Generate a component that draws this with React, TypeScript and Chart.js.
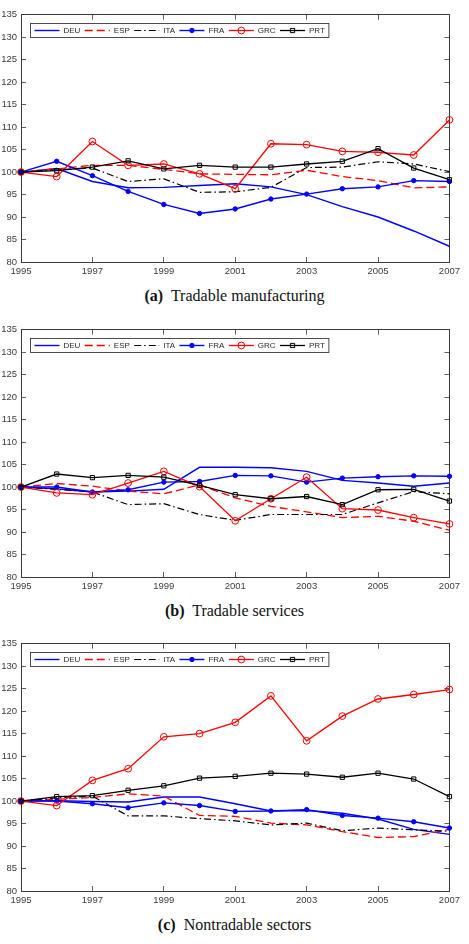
import React, { useEffect, useRef } from "react";
import { Chart, registerables } from "chart.js";
Chart.register(...registerables);

// ---------- data ----------
const years = [1995, 1996, 1997, 1998, 1999, 2000, 2001, 2002, 2003, 2004, 2005, 2006, 2007];
const countries = ["DEU", "ESP", "ITA", "FRA", "GRC", "PRT"];
const yMin = 80;
const yMax = 135;
const yStep = 5;
const xStep = 2;

// (a) Tradable manufacturing
const manufDEU = [100, 100.8, 97.9, 96.5, 96.6, 97.0, 97.4, 96.7, 95.0, 92.3, 90.0, 86.9, 83.5];
const manufESP = [100, 100.7, 101.5, 101.5, 100.6, 99.6, 99.5, 99.4, 100.4, 99.0, 98.1, 96.5, 96.7];
const manufITA = [100, 100.5, 100.9, 97.9, 98.5, 95.5, 95.6, 96.6, 101.0, 101.1, 102.3, 101.8, 100.1];
const manufFRA = [100, 102.4, 99.2, 95.7, 92.8, 90.8, 91.8, 94.0, 95.1, 96.3, 96.7, 98.1, 97.9];
const manufGRC = [100, 99.0, 106.8, 101.5, 101.8, 99.6, 96.3, 106.3, 106.1, 104.6, 104.4, 103.8, 111.6];
const manufPRT = [100, 100.3, 101.1, 102.5, 100.7, 101.5, 101.1, 101.1, 101.8, 102.4, 105.2, 100.9, 98.3];

// (b) Tradable services
const servDEU = [100, 99.6, 98.9, 99.1, 99.5, 104.4, 104.4, 104.3, 103.5, 101.5, 100.9, 100.2, 100.9];
const servESP = [100, 100.8, 100.2, 99.1, 98.5, 100.5, 97.6, 95.7, 94.5, 93.2, 93.5, 92.4, 90.4];
const servITA = [100, 99.5, 98.9, 96.1, 96.3, 93.9, 92.6, 93.9, 93.9, 93.9, 96.5, 99.0, 98.5];
const servFRA = [100, 100.0, 98.9, 99.4, 101.1, 101.25, 102.6, 102.5, 101.1, 102.0, 102.3, 102.5, 102.4];
const servGRC = [100, 98.7, 98.3, 100.9, 103.5, 100.1, 92.5, 97.4, 102.2, 95.2, 94.9, 93.2, 91.8];
const servPRT = [100, 102.9, 102.1, 102.6, 102.2, 100.4, 98.3, 97.4, 97.9, 96.1, 99.4, 99.5, 96.9];

// (c) Nontradable sectors
const nontDEU = [100, 100.1, 99.9, 99.8, 100.9, 100.9, 99.4, 97.8, 97.9, 97.3, 96.0, 93.7, 92.6];
const nontESP = [100, 100.4, 100.8, 101.6, 101.1, 96.8, 96.6, 95.1, 94.7, 93.2, 91.9, 92.1, 93.7];
const nontITA = [100, 100.7, 101.1, 96.7, 96.7, 96.1, 95.6, 94.7, 95.1, 93.4, 94.0, 93.6, 93.3];
const nontFRA = [100, 100.0, 99.4, 98.5, 99.6, 99.0, 97.7, 97.8, 98.1, 96.8, 96.2, 95.4, 94.0];
const nontGRC = [100, 99.0, 104.6, 107.2, 114.3, 115.0, 117.5, 123.4, 113.4, 118.9, 122.7, 123.7, 124.8];
const nontPRT = [100, 101.0, 101.2, 102.4, 103.4, 105.1, 105.5, 106.2, 106.0, 105.3, 106.2, 104.9, 101.0];

// ---------- styles ----------
const BLUE = "#0000ff";
const RED = "#ff0000";
const BLACK = "#000000";
const AXIS = "#3a3a3a";
const TEXT = "#2a2a2a";
const TICKTEXT = "#3c3c3c";
const SANS = "'Liberation Sans', Arial, Helvetica, sans-serif";

const seriesStyle: Record<string, any> = {
  DEU: { color: BLUE, dash: [], width: 1.4, pointStyle: "circle", radius: 0, fill: BLUE },
  ESP: { color: RED, dash: [8, 4], width: 1.3, pointStyle: "circle", radius: 0, fill: RED },
  ITA: { color: BLACK, dash: [7, 3, 1.5, 3], width: 1.2, pointStyle: "circle", radius: 0, fill: BLACK },
  FRA: { color: BLUE, dash: [], width: 1.4, pointStyle: "circle", radius: 2.2, fill: BLUE },
  GRC: { color: RED, dash: [], width: 1.3, pointStyle: "circle", radius: 3.4, fill: "rgba(0,0,0,0)" },
  PRT: { color: BLACK, dash: [], width: 1.3, pointStyle: "rect", radius: 3, fill: "rgba(0,0,0,0)" },
};

function buildDatasets(series: number[][]) {
  return series.map((vals, i) => {
    const name = countries[i];
    const s = seriesStyle[name];
    return {
      label: name,
      data: years.map((yr, k) => ({ x: yr, y: vals[k] })),
      borderColor: s.color,
      borderWidth: s.width,
      borderDash: s.dash,
      pointStyle: s.pointStyle,
      pointRadius: s.radius,
      pointBorderColor: s.color,
      pointBackgroundColor: s.fill,
      pointBorderWidth: 1,
      pointHoverRadius: s.radius,
      tension: 0,
      fill: false,
      clip: false,
      order: countries.length - i,
    };
  });
}

const insideLegend = {
  id: "insideLegend",
  afterDatasetsDraw(chart: any) {
    const { ctx, chartArea } = chart;
    const dsList = chart.data.datasets;
    ctx.save();
    ctx.font = `8px ${SANS}`;
    const lineLen = 25;
    const gap = 4;
    const itemGap = 4.4;
    const pad = 4;
    const h = 14;
    const widths = dsList.map((d: any) => ctx.measureText(d.label).width);
    let total = pad * 2 + itemGap * (dsList.length - 1);
    widths.forEach((w: number) => (total += lineLen + gap + w));
    const x0 = Math.round(chartArea.left + 9) + 0.5;
    const y0 = Math.round(chartArea.top + 8.5) + 0.5;
    ctx.fillStyle = "#ffffff";
    ctx.fillRect(x0, y0, total, h);
    ctx.strokeStyle = AXIS;
    ctx.lineWidth = 0.9;
    ctx.strokeRect(x0, y0, total, h);
    const cy = y0 + h / 2;
    let x = x0 + pad;
    dsList.forEach((d: any, i: number) => {
      ctx.save();
      ctx.strokeStyle = d.borderColor;
      ctx.lineWidth = d.borderWidth;
      ctx.setLineDash(d.borderDash || []);
      ctx.beginPath();
      ctx.moveTo(x, cy);
      ctx.lineTo(x + lineLen, cy);
      ctx.stroke();
      ctx.restore();
      if (d.pointRadius > 0) {
        const mx = x + lineLen / 2;
        const r = d.pointRadius;
        ctx.save();
        ctx.strokeStyle = d.pointBorderColor;
        ctx.fillStyle = d.pointBackgroundColor;
        ctx.lineWidth = d.pointBorderWidth;
        ctx.beginPath();
        if (d.pointStyle === "rect") {
          const s = Math.SQRT1_2 * r;
          ctx.rect(mx - s, cy - s, 2 * s, 2 * s);
        } else {
          ctx.arc(mx, cy, r, 0, Math.PI * 2);
        }
        ctx.fill();
        ctx.stroke();
        ctx.restore();
      }
      ctx.fillStyle = TEXT;
      ctx.textBaseline = "middle";
      ctx.textAlign = "left";
      ctx.fillText(d.label, x + lineLen + gap, cy + 0.5);
      x += lineLen + gap + widths[i] + itemGap;
    });
    ctx.restore();
  },
};

function axisCommon() {
  return {
    grid: { drawOnChartArea: false, drawTicks: true, tickLength: -5, color: AXIS, lineWidth: 0.8 },
    border: { display: true, color: AXIS, width: 1 },
  };
}

function Panel({ top, series, letter, caption }: { top: number; series: number[][]; letter: string; caption: string }) {
  const ref = useRef<HTMLCanvasElement | null>(null);
  useEffect(() => {
    if (!ref.current) return;
    const tickFont = { family: SANS, size: 9.5 };
    const chart = new Chart(ref.current, {
      type: "line",
      data: { datasets: buildDatasets(series) as any },
      options: {
        responsive: false,
        animation: false,
        devicePixelRatio: 1,
        layout: { padding: { left: 0, right: 14, top: 14, bottom: 0 } },
        plugins: { legend: { display: false }, tooltip: { enabled: false } },
        events: [],
        scales: {
          x: {
            type: "linear",
            position: "bottom",
            min: years[0],
            max: years[years.length - 1],
            ticks: { stepSize: xStep, callback: (v: any) => String(v), font: tickFont, color: TICKTEXT, padding: 9, maxRotation: 0, autoSkip: false },
            ...axisCommon(),
            afterFit: (s: any) => { s.height = 23; },
          },
          x2: {
            type: "linear",
            position: "top",
            min: years[0],
            max: years[years.length - 1],
            ticks: { stepSize: xStep, display: false },
            ...axisCommon(),
            afterFit: (s: any) => { s.height = 0; },
          },
          y: {
            type: "linear",
            position: "left",
            min: yMin,
            max: yMax,
            ticks: { stepSize: yStep, font: tickFont, color: TICKTEXT, padding: 9, autoSkip: false },
            ...axisCommon(),
            afterFit: (s: any) => { s.width = 21; },
          },
          y2: {
            type: "linear",
            position: "right",
            min: yMin,
            max: yMax,
            ticks: { stepSize: yStep, display: false },
            ...axisCommon(),
            afterFit: (s: any) => { s.width = 0; },
          },
        } as any,
      },
      plugins: [insideLegend],
    });
    return () => chart.destroy();
  }, [series]);

  return (
    <div style={{ position: "absolute", left: 0, top, width: 469, height: 314 }}>
      <canvas ref={ref} width={469} height={285} style={{ position: "absolute", left: 0, top: 0, width: 469, height: 285 }} />
      <div
        style={{
          position: "absolute",
          left: 0,
          top: 286,
          width: 469,
          textAlign: "center",
          fontFamily: "'Liberation Serif', 'DejaVu Serif', serif",
          fontSize: 16,
          lineHeight: "20px",
          color: "#111",
        }}
      >
        <b>({letter})</b>&nbsp; {caption}
      </div>
    </div>
  );
}

const manufSeries = [manufDEU, manufESP, manufITA, manufFRA, manufGRC, manufPRT];
const servSeries = [servDEU, servESP, servITA, servFRA, servGRC, servPRT];
const nontSeries = [nontDEU, nontESP, nontITA, nontFRA, nontGRC, nontPRT];

export default function App() {
  return (
    <div style={{ position: "absolute", left: 0, top: 0, width: 469, height: 944, background: "#ffffff", overflow: "hidden" }}>
      <Panel top={0} series={manufSeries} letter="a" caption="Tradable manufacturing" />
      <Panel top={315} series={servSeries} letter="b" caption="Tradable services" />
      <Panel top={629} series={nontSeries} letter="c" caption="Nontradable sectors" />
    </div>
  );
}
